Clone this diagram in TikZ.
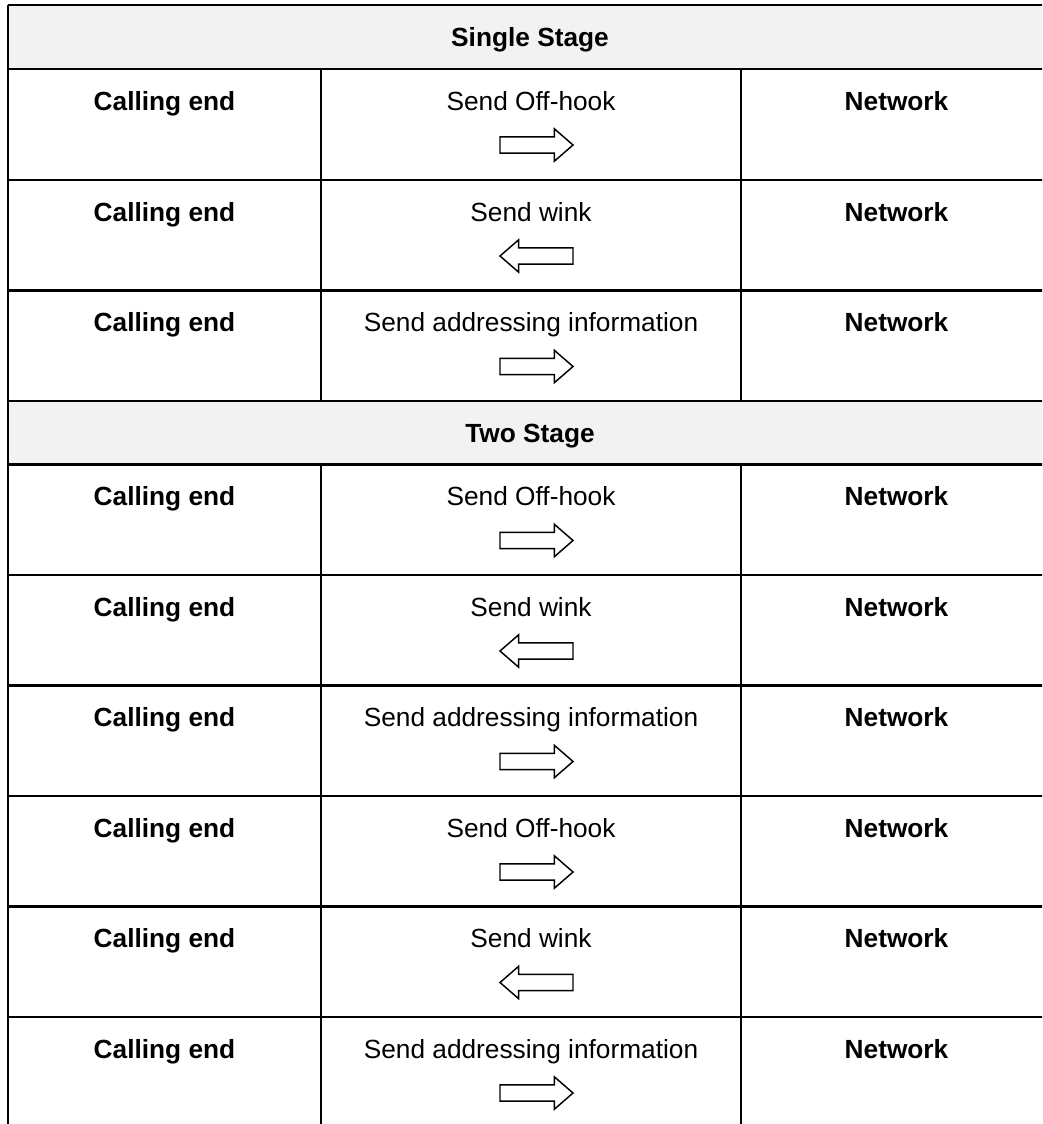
\documentclass[tikz,border=0pt]{standalone}
\usepackage{fontspec}
\setmainfont{Liberation Sans}
\usetikzlibrary{shapes.arrows}

\definecolor{headgray}{HTML}{F2F2F2}

\tikzset{
    rule/.style={line width=2.1pt},
    celltext/.style={font=\fontsize{19.7}{23}\selectfont, anchor=base, inner sep=0pt},
    party/.style={celltext, font=\fontsize{19.7}{23}\selectfont\bfseries},
    flow/.style={draw, single arrow, line width=1.1pt, minimum height=54.75pt,
        inner xsep=0pt, inner ysep=5.6pt, single arrow head extend=6pt,
        single arrow tip angle=82, outer sep=0pt, anchor=tail}
}

\begin{document}
\begin{tikzpicture}[x=0.75pt, y=-0.75pt]
        \useasboundingbox (0, 0) rectangle (1042, 1124);
        \clip (0, 0) rectangle (1042, 1124);

        \fill[headgray] (8, 5) rectangle (1052, 69);
        \fill[headgray] (8, 401) rectangle (1052, 464.5);
        \node[party] (single) at (530, 46.5) {Single Stage};
        \node[party] (two) at (530, 442) {Two Stage};

        \foreach \y in {5, 69, 180, 290.5, 401, 464.5, 575, 685.5, 796, 906.5, 1017} {
            \draw[rule] (8, \y) -- (1052, \y);
        }
        \draw[rule] (8, 5) -- (8, 1124);
        \draw[rule] (1052, 5) -- (1052, 1124);
        \foreach \x in {321, 741} {
            \draw[rule] (\x, 69) -- (\x, 401);
            \draw[rule] (\x, 464.5) -- (\x, 1124);
        }

        \foreach \top/\msg/\dir[count=\i] in {69/Send Off-hook/0, 180/Send wink/180,
                290.5/Send addressing information/0, 464.5/Send Off-hook/0, 575/Send wink/180,
                685.5/Send addressing information/0, 796/Send Off-hook/0, 906.5/Send wink/180,
                1017/Send addressing information/0} {
            \node[party] (call\i) at (164.5, \top+41) {Calling end};
            \node[celltext] (msg\i) at (531, \top+41) {\msg};
            \node[party] (net\i) at (896.5, \top+41) {Network};
            \node[flow, shape border rotate=\dir] (arr\i) at ({500+73*\dir/180}, \top+76) {};
        }
    \end{tikzpicture}
\end{document}
